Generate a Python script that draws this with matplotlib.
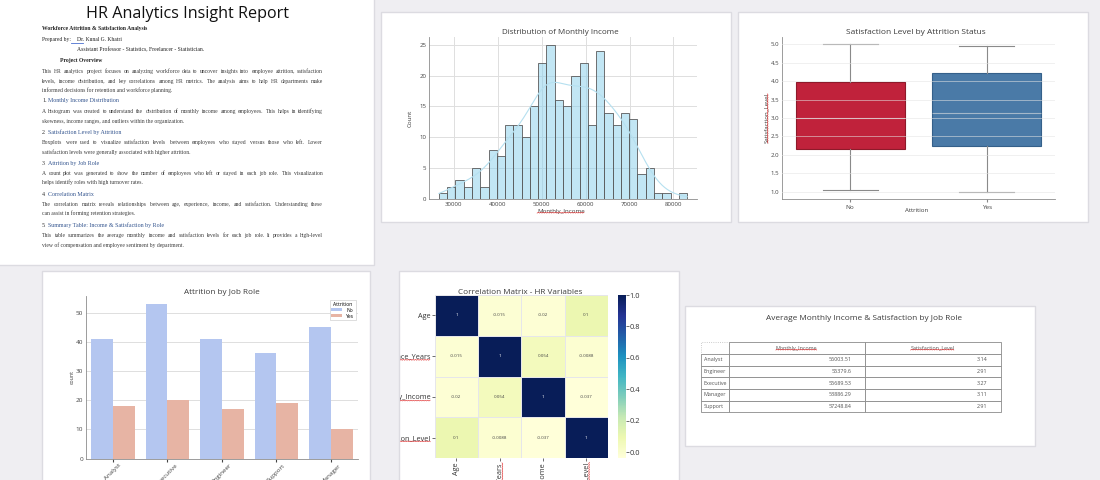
import numpy as np
import matplotlib
matplotlib.use("Agg")
import matplotlib.pyplot as plt
from matplotlib.patches import Rectangle
from matplotlib.lines import Line2D
from matplotlib.table import Table
from matplotlib.ticker import MultipleLocator
from matplotlib.transforms import Bbox, TransformedBbox

# ---------------- data ----------------
hist_counts = [1, 2, 3, 2, 5, 2, 8, 7, 12, 12, 10, 15, 22, 25, 16,
               15, 20, 22, 12, 24, 14, 12, 14, 13, 4, 5, 1, 1, 0, 1]
income_min = 26600
income_max = 83100
income_ticks = [30000, 40000, 50000, 60000, 70000, 80000]

attrition_groups = ["No", "Yes"]
sat_whislo = [1.05, 1.0]
sat_q1 = [2.15, 2.25]
sat_med = [3.0, 3.13]
sat_q3 = [3.97, 4.22]
sat_whishi = [5.0, 4.95]

job_roles = ["Analyst", "Executive", "Engineer", "Support", "Manager"]
attr_no = [41, 53, 41, 36, 45]
attr_yes = [18, 20, 17, 19, 10]

corr_vars = ["Age", "Experience_Years", "Monthly_Income", "Satisfaction_Level"]
corr_values = [[1, -0.015, -0.02, 0.1],
               [-0.015, 1, 0.054, -0.0088],
               [-0.02, 0.054, 1, -0.037],
               [0.1, -0.0088, -0.037, 1]]

table_roles = ["Analyst", "Engineer", "Executive", "Manager", "Support"]
table_income = [56003.51, 55379.6, 55689.53, 53886.29, 57248.84]
table_sat = [3.14, 2.91, 3.27, 3.11, 2.91]
table_cols = ["Monthly_Income", "Satisfaction_Level"]

# ---------------- setup ----------------
W, H = 1100, 480
SANS = ["Open Sans", "DejaVu Sans"]
SERIF = ["Liberation Serif", "DejaVu Serif"]
plt.rcParams["font.family"] = SANS
TXT = "#3c3c3c"

fig = plt.figure(figsize=(W / 100, H / 100), dpi=100)
fig.patch.set_facecolor("#efeef2")


def fr(l, t, r, b):
    return [l / W, 1 - b / H, (r - l) / W, (b - t) / H]


def add_ax(l, t, r, b):
    return fig.add_axes(fr(l, t, r, b))


def panel(l, t, r, b):
    x, y, w, h = fr(l, t, r, b)
    fig.add_artist(Rectangle((x, y), w, h, transform=fig.transFigure,
                             facecolor="white", edgecolor="#dcdbe1",
                             lw=1.0, zorder=-5))


def ftext(x, y, s, **kw):
    kw.setdefault("color", TXT)
    return fig.text(x / W, 1 - y / H, s, **kw)


panels = {"text": (-2, -2, 374, 265), "hist": (381, 12, 731, 222),
          "box": (738, 12, 1088, 222), "bar": (42, 271, 370, 482),
          "heat": (399, 271, 679, 482), "table": (685, 306, 1035, 446)}
for p in panels.values():
    panel(*p)


def style(ax, grid_axis="both"):
    for s in ["top", "right"]:
        ax.spines[s].set_visible(False)
    for s in ["left", "bottom"]:
        ax.spines[s].set_color("#8c8c8c")
        ax.spines[s].set_linewidth(0.6)
    ax.tick_params(labelsize=4.4, colors="#444444", length=0, pad=2)
    ax.grid(True, axis=grid_axis, color="#dedede", lw=0.7)
    ax.set_axisbelow(True)


titles = []  # (text artist, target width px)

# ---------------- histogram ----------------
axh = add_ax(429, 37, 697, 199)
style(axh)
edges = np.linspace(income_min, income_max, len(hist_counts) + 1)
axh.bar(edges[:-1], hist_counts, width=np.diff(edges), align="edge",
        facecolor=(135 / 255, 206 / 255, 235 / 255, 0.5),
        edgecolor="#5a5a5a", linewidth=0.6, zorder=2)
centers = (edges[:-1] + edges[1:]) / 2
cnt = np.array(hist_counts, float)
n = cnt.sum()
mu = (centers * cnt).sum() / n
sd = np.sqrt((((centers - mu) ** 2) * cnt).sum() / n)
bw = sd * n ** (-1 / 5)
gx = np.linspace(income_min, income_max, 200)
dens = (cnt[None, :] * np.exp(-0.5 * ((gx[:, None] - centers[None, :]) / bw) ** 2)).sum(1) / (n * bw * np.sqrt(2 * np.pi))
axh.plot(gx, dens * n * (edges[1] - edges[0]), color="#b5e0f0", lw=0.8, zorder=3)
axh.set_xticks(income_ticks)
axh.margins(x=0.04)
titles.append((ftext(560, 33, "Distribution of Monthly Income", ha="center", va="center", fontsize=6), 118))
hx_lbl = ftext(561, 211, "Monthly_Income", ha="center", va="center", fontsize=4.4)
ftext(410, 118, "Count", ha="center", va="center", rotation=90, fontsize=4.4)

# ---------------- box plot ----------------
axb = add_ax(782, 37, 1055, 199)
style(axb, "y")
stats = [dict(whislo=a, q1=b, med=c, q3=d, whishi=e, label=g)
         for a, b, c, d, e, g in zip(sat_whislo, sat_q1, sat_med, sat_q3, sat_whishi, attrition_groups)]
bp = axb.bxp(stats, positions=[0, 1], widths=0.8, capwidths=0.4, patch_artist=True,
             showfliers=False,
             whiskerprops=dict(color="#8a8a8a", lw=0.8),
             capprops=dict(color="#8a8a8a", lw=0.8),
             medianprops=dict(color="#e2e2e2", lw=0.8, alpha=0.6))
for patch, fc, ec in zip(bp["boxes"], ["#c0223b", "#4a7aa7"], ["#8e1a2a", "#35608a"]):
    patch.set_facecolor(fc)
    patch.set_edgecolor(ec)
    patch.set_linewidth(0.8)
axb.set_axisbelow(False)
axb.grid(True, axis="y", color="#e4e4e4", lw=0.7, alpha=0.55)
axb.set_xlim(-0.5, 1.5)
axb.yaxis.set_major_locator(MultipleLocator(0.5))
axb.tick_params(axis="x", length=2, color="#888888", labelsize=4.6)
titles.append((ftext(916, 33, "Satisfaction Level by Attrition Status", ha="center", va="center", fontsize=6), 139.7))
ftext(917, 211, "Attrition", ha="center", va="center", fontsize=4.4)
bx_lbl = ftext(766, 118, "Satisfaction_Level", ha="center", va="center", rotation=90, fontsize=4.4)

# ---------------- bar chart ----------------
axr = add_ax(85.7, 296, 358, 458.7)
style(axr, "y")
xr = np.arange(len(job_roles))
axr.bar(xr - 0.2, attr_no, 0.4, color="#b4c6f0", label="No", zorder=2)
axr.bar(xr + 0.2, attr_yes, 0.4, color="#e7b4a4", label="Yes", zorder=2)
axr.set_xticks(xr, job_roles, rotation=45)
axr.tick_params(axis="x", labelsize=4.5, length=2, pad=1)
axr.tick_params(axis="y", labelsize=4.6)
axr.set_xlim(-0.5, 4.5)
leg = axr.legend(title="Attrition", loc="upper right", fontsize=3.6, title_fontsize=3.6,
                 handlelength=2.2, handleheight=0.6, borderpad=0.3, labelspacing=0.2,
                 frameon=True, fancybox=False, edgecolor="#d0d0d0", framealpha=1,
                 bbox_to_anchor=(1.0, 0.99))
leg.get_frame().set_linewidth(0.5)
titles.append((ftext(221.7, 292, "Attrition by Job Role", ha="center", va="center", fontsize=6), 75.7))
ftext(72, 377, "count", ha="center", va="center", rotation=90, fontsize=3.8)

# ---------------- heatmap ----------------
axc = add_ax(434.7, 295, 608, 458)
M = np.array(corr_values, float)
mesh = axc.pcolormesh(M, cmap="YlGnBu", vmin=M.min(), vmax=1.0,
                      edgecolors="#e6e6ea", linewidth=0.5)
axc.set_xlim(0, len(corr_vars))
axc.set_ylim(len(corr_vars), 0)
for s in axc.spines.values():
    s.set_visible(False)
axc.set_xticks(np.arange(len(corr_vars)) + 0.5, corr_vars, rotation=90)
axc.set_yticks(np.arange(len(corr_vars)) + 0.5, corr_vars)
axc.tick_params(labelsize=5.2, colors="#333333", length=2, pad=1, width=0.5)
for i in range(len(corr_vars)):
    for j in range(len(corr_vars)):
        v = M[i, j]
        axc.text(j + 0.5, i + 0.5, f"{v:.2g}", ha="center", va="center", fontsize=3.2,
                 color="white" if v > 0.5 else "#444444")
cax = add_ax(618, 295, 625.7, 458)
cb = fig.colorbar(mesh, cax=cax)
cb.set_ticks([0.0, 0.2, 0.4, 0.6, 0.8, 1.0])
cb.ax.tick_params(labelsize=5.4, length=2, width=0.5, pad=1, colors="#333333")
cb.outline.set_visible(False)
titles.append((ftext(520, 292, "Correlation Matrix - HR Variables", ha="center", va="center", fontsize=6), 125))

heat_clip = TransformedBbox(Bbox.from_extents(400 / W, 0, 678 / W, 1 - 272 / H), fig.transFigure)
for lbl in axc.get_yticklabels() + axc.get_xticklabels():
    lbl.set_clip_box(heat_clip)
    lbl.set_clip_on(True)

# ---------------- table ----------------
tax = add_ax(700.7, 342.3, 1000.7, 412.3)
tax.axis("off")
tb = Table(tax, bbox=[0, 0, 1, 1])
cw = [28 / 300, 136 / 300, 136 / 300]
nrow = len(table_roles) + 1
rh = 1 / nrow
c0 = tb.add_cell(0, 0, cw[0], rh, text="", loc="left")
c0.set_edgecolor("#bbbbbb")
c0.set_linestyle(":")
for j, name in enumerate(table_cols):
    tb.add_cell(0, j + 1, cw[j + 1], rh, text=name, loc="center")
for i, role in enumerate(table_roles):
    tb.add_cell(i + 1, 0, cw[0], rh, text=role, loc="left")
    tb.add_cell(i + 1, 1, cw[1], rh, text=str(table_income[i]), loc="right")
    tb.add_cell(i + 1, 2, cw[2], rh, text=str(table_sat[i]), loc="right")
tb.auto_set_font_size(False)
tb.set_fontsize(3.9)
for (r, c), cell in tb.get_celld().items():
    if not (r == 0 and c == 0):
        cell.set_edgecolor("#8a8a8a")
    cell.set_linewidth(0.6)
    cell.get_text().set_color("#555555")
tax.add_table(tb)
titles.append((ftext(864.5, 318, "Average Monthly Income & Satisfaction by Job Role", ha="center", va="center", fontsize=6), 197))

# ---------------- report text ----------------
BLUE = "#34558f"
BASE = 1.6  # baseline offset below line centre (px)
report_title = ftext(187, 14, "HR Analytics Insight Report", ha="center", va="center",
                     fontsize=12, color="#111111")
titles.append((report_title, 201))

simple_lines = [
    (42, 28, "Workforce Attrition & Satisfaction Analysis", "bold"),
    (42, 39, "Prepared by:", "normal"),
    (77, 39, "Dr. Kunal G. Khatri", "normal"),
    (77, 49.7, "Assistant Professor - Statistics, Freelancer - Statistician.", "normal"),
    (60, 60, "Project Overview", "bold"),
]
headings = [
    (100.5, "1.", "Monthly Income Distribution"),
    (132, "2.", "Satisfaction Level by Attrition"),
    (163.3, "3.", "Attrition by Job Role"),
    (194, "4.", "Correlation Matrix"),
    (225, "5.", "Summary Table: Income & Satisfaction by Role"),
]
body_lines = [
    (71, "This HR analytics project focuses on analyzing workforce data to uncover insights into employee attrition, satisfaction", True),
    (81, "levels, income distribution, and key correlations among HR metrics. The analysis aims to help HR departments make", True),
    (90.5, "informed decisions for retention and workforce planning.", False),
    (111, "A histogram was created to understand the distribution of monthly income among employees. This helps in identifying", True),
    (121, "skewness, income ranges, and outliers within the organization.", False),
    (142.3, "Boxplots were used to visualize satisfaction levels between employees who stayed versus those who left. Lower", True),
    (152.3, "satisfaction levels were generally associated with higher attrition.", False),
    (173.3, "A count plot was generated to show the number of employees who left or stayed in each job role. This visualization", True),
    (182.7, "helps identify roles with high turnover rates.", False),
    (204, "The correlation matrix reveals relationships between age, experience, income, and satisfaction. Understanding these", True),
    (213.3, "can assist in forming retention strategies.", False),
    (235.3, "This table summarizes the average monthly income and satisfaction levels for each job role. It provides a high-level", True),
    (245, "view of compensation and employee sentiment by department.", False),
]

R = fig.canvas.get_renderer()

# body font size fitted to justified width
X0, X1 = 42, 323
probe = fig.text(0, 0, max((b[1] for b in body_lines if b[2]), key=len), family=SERIF, fontsize=10)
pw = probe.get_window_extent(R).width
probe.remove()
BODY = 10 * (X1 - X0) / pw * 0.96

for x, y, s, wt in simple_lines:
    ftext(x, y + BASE, s, family=SERIF, fontsize=BODY, fontweight=wt, va="baseline", color="#222222")
fig.add_artist(Line2D([71 / W, 83 / W], [1 - 42.5 / H] * 2, transform=fig.transFigure,
                      color="#4a6fd0", lw=0.6))
for y, num, s in headings:
    ftext(42, y + BASE, num, family=SERIF, fontsize=BODY * 1.05, va="baseline", color="#333333")
    ftext(48, y + BASE, s, family=SERIF, fontsize=BODY * 1.05, va="baseline", color=BLUE)

for y, s, just in body_lines:
    yb = y + BASE
    if not just:
        ftext(X0, yb, s, family=SERIF, fontsize=BODY, va="baseline")
        continue
    words = s.split(" ")
    arts = [ftext(X0, yb, w, family=SERIF, fontsize=BODY, va="baseline") for w in words]
    widths = [a.get_window_extent(R).width for a in arts]
    gap = (X1 - X0 - sum(widths)) / (len(words) - 1)
    xx = X0
    for a, w in zip(arts, widths):
        a.set_x(xx / W)
        xx += w + gap

# fit titles to measured widths
for t, target in titles:
    w = t.get_window_extent(R).width
    t.set_fontsize(t.get_fontsize() * target / w)

fig.canvas.draw()
R = fig.canvas.get_renderer()


def squiggle(t, vertical=False, clip=None):
    bb = t.get_window_extent(R)
    if not vertical:
        xs = np.arange(bb.x0, bb.x1, 1.2)
        ys = bb.y0 + 0.4 + 0.8 * (np.arange(len(xs)) % 2)
    else:
        ys = np.arange(bb.y0, bb.y1, 1.2)
        xs = bb.x1 - 0.4 - 0.8 * (np.arange(len(ys)) % 2)
    ln = Line2D(xs / W, ys / H, transform=fig.transFigure, color="#e03535", lw=0.45, zorder=6)
    if clip is not None:
        ln.set_clip_box(clip)
        ln.set_clip_on(True)
    fig.add_artist(ln)


squiggle(hx_lbl)
squiggle(bx_lbl, vertical=True)
for lbl in axc.get_yticklabels():
    if "_" in lbl.get_text():
        squiggle(lbl, clip=heat_clip)
for lbl in axc.get_xticklabels():
    if lbl.get_text() in ("Experience_Years", "Satisfaction_Level"):
        squiggle(lbl, vertical=True, clip=heat_clip)
for j in range(len(table_cols)):
    tt = tb[0, j + 1].get_text()
    bb = tt.get_window_extent(R)
    xs = np.arange(bb.x0, bb.x1, 1.2)
    ys = bb.y0 + 0.6 + 0.8 * (np.arange(len(xs)) % 2)
    fig.add_artist(Line2D(xs / W, ys / H, transform=fig.transFigure, color="#e03535", lw=0.45, zorder=6))

fig.savefig("out.png", dpi=100, facecolor=fig.get_facecolor())
